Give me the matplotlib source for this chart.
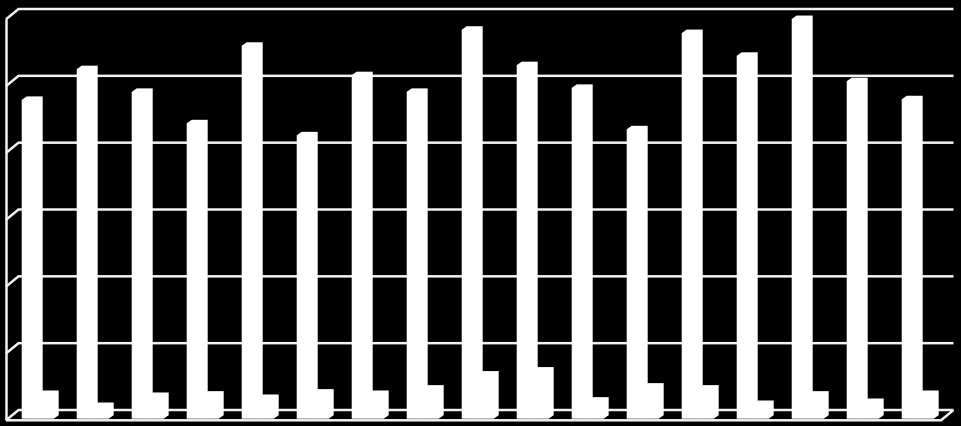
import numpy as np
import matplotlib
matplotlib.use("Agg")
import matplotlib.pyplot as plt
from matplotlib.patches import Polygon

series_a = [4.77, 5.23, 4.89, 4.42, 5.58, 4.24, 5.14, 4.89, 5.82, 5.29, 4.95, 4.33, 5.77, 5.43, 5.98, 5.05, 4.78]
series_b = [0.37, 0.19, 0.34, 0.36, 0.31, 0.39, 0.37, 0.45, 0.66, 0.72, 0.27, 0.48, 0.45, 0.22, 0.36, 0.25, 0.37]
y_levels = [0, 1, 2, 3, 4, 5, 6]

W, H = 961, 426
L, R, B, T = 6.0, 941.0, 420.3, 19.3
fig = plt.figure(figsize=(W / 100, H / 100), dpi=100, facecolor="black")
ax = fig.add_axes([L / W, 1 - B / H, (R - L) / W, (B - T) / H])
ax.set_xlim(0, len(series_a))
ax.set_ylim(0, 6)
ax.axis("off")

px = (R - L) / len(series_a)
py = (B - T) / 6
wall_dx, wall_dy = 12.5 / px, 10.3 / py
bar_dx, bar_dy = 5.0 / px, 3.5 / py
base_dy = 1.6 / py
bar_w = 16.0 / px
start = 15.7 / px
LINE = dict(color="#f2f2f2", lw=1.8, clip_on=False, solid_capstyle="butt", solid_joinstyle="miter")

for lv in y_levels:
    ax.plot([0, wall_dx, len(series_a) + wall_dx], [lv, lv + wall_dy, lv + wall_dy], zorder=1, **LINE)
ax.plot([0, 0], [0, 6], zorder=1, **LINE)
ax.plot([0, len(series_a), len(series_a) + wall_dx], [0, 0, wall_dy], zorder=1, **LINE)


def bar3d(x0, val):
    x1 = x0 + bar_w
    pts = [(x0, base_dy), (x1, base_dy), (x1 + bar_dx, base_dy + bar_dy),
           (x1 + bar_dx, base_dy + val + bar_dy), (x0 + bar_dx, base_dy + val + bar_dy),
           (x0, base_dy + val)]
    ax.add_patch(Polygon(pts, closed=True, facecolor="white", edgecolor="none", zorder=3, clip_on=False))


for i, (a, b) in enumerate(zip(series_a, series_b)):
    bar3d(i + start, a)
    bar3d(i + start + bar_w, b)

fig.savefig("out.png", dpi=100, facecolor="black")
